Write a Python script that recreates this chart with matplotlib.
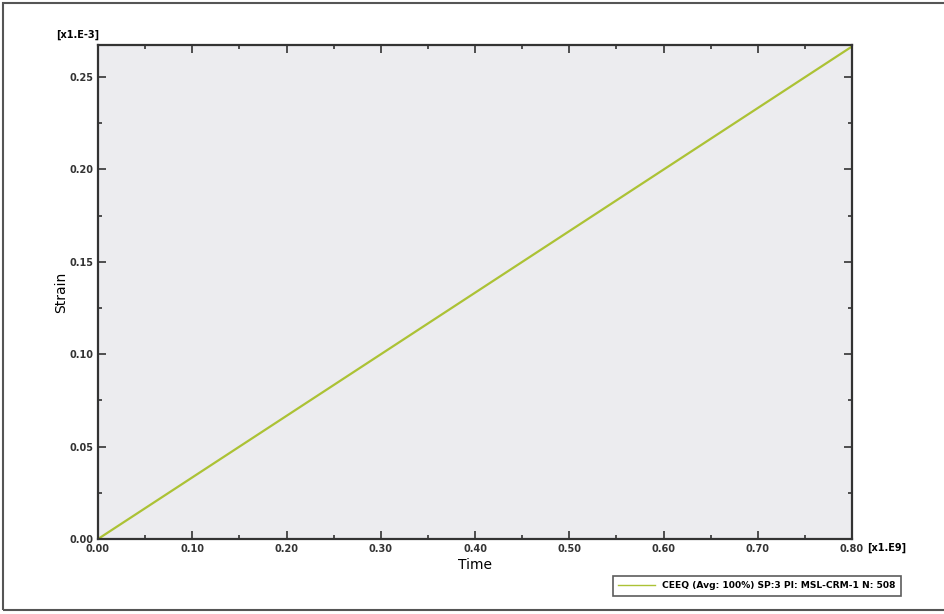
import numpy as np
import matplotlib.pyplot as plt
from matplotlib.ticker import MultipleLocator

# data (Time in [x1.E9], Strain in [x1.E-3])
time = [0.0, 0.8]
strain = [0.0, 0.2665]
label = 'CEEQ (Avg: 100%) SP:3 PI: MSL-CRM-1 N: 508'

fig = plt.figure(figsize=(9.44, 6.14), dpi=100)
fig.patch.set_facecolor('white')
ax = fig.add_axes([98/944, 1-539/614, (852-98)/944, (539-45)/614])
ax.set_facecolor('#ececef')

ax.plot(time, strain, color='#acc235', lw=1.6, label=label)

ax.set_xlim(0, 0.8)
ax.set_ylim(0, 0.2673)
ax.xaxis.set_major_locator(MultipleLocator(0.1))
ax.xaxis.set_minor_locator(MultipleLocator(0.05))
ax.yaxis.set_major_locator(MultipleLocator(0.05))
ax.yaxis.set_minor_locator(MultipleLocator(0.025))
ax.xaxis.set_major_formatter(lambda v, p: f'{v:.2f}')
ax.yaxis.set_major_formatter(lambda v, p: f'{v:.2f}')
ax.tick_params(which='both', direction='in', top=True, right=True, width=1.2, colors='#333333')
ax.tick_params(which='major', length=6, labelsize=7)
ax.tick_params(which='minor', length=3)
for t in ax.get_xticklabels() + ax.get_yticklabels():
    t.set_fontweight('bold')
for s in ax.spines.values():
    s.set_linewidth(1.6)
    s.set_color('#333333')

ax.set_xlabel('Time', fontsize=10, labelpad=3)
ax.set_ylabel('Strain', fontsize=10, labelpad=1)

fig.text(56/944, 1-40/614, '[x1.E-3]', fontsize=7, fontweight='bold', va='bottom')
fig.text(867/944, 1-548/614, '[x1.E9]', fontsize=7, fontweight='bold', va='center')

leg = ax.legend(loc='upper right', bbox_to_anchor=(906/944, 1-571/614),
                bbox_transform=fig.transFigure, fontsize=6.6, frameon=True,
                fancybox=False, handlelength=4, borderpad=0.6)
leg.get_frame().set_edgecolor('#333333')
leg.get_frame().set_linewidth(1.2)
for t in leg.get_texts():
    t.set_fontweight('bold')
leg.get_lines()[0].set_linewidth(1.0)

# outer frame (open on the right)
fig.add_artist(plt.Rectangle((3/944, 4/614), 960/944, 607/614, transform=fig.transFigure,
                             fill=False, edgecolor='#555555', lw=1.5))

fig.savefig('out.png', dpi=100)
